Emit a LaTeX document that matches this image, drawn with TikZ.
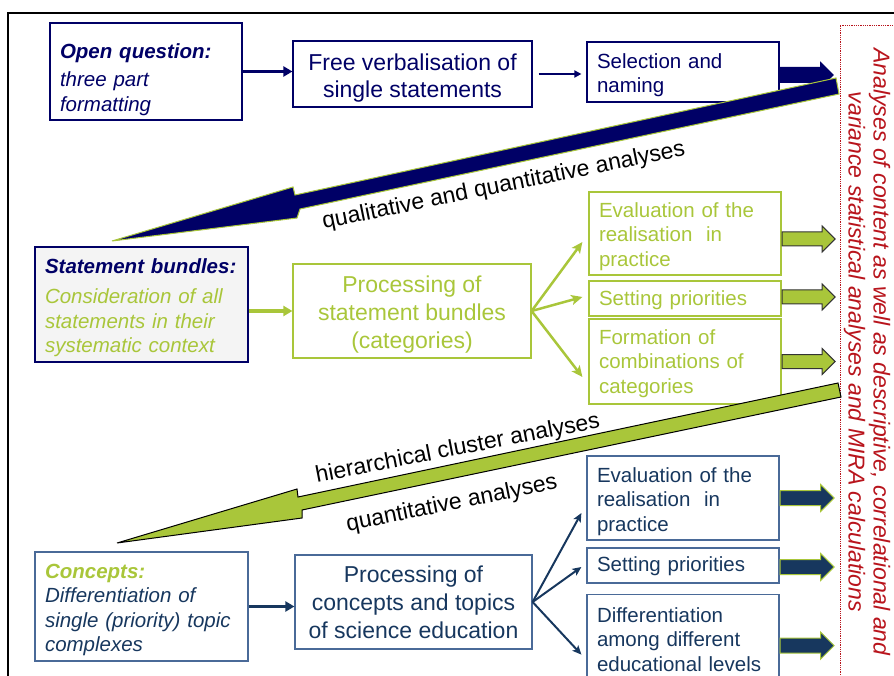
\documentclass[tikz,border=0pt]{standalone}
\usepackage{fontspec}
\setmainfont{Liberation Sans}
\usetikzlibrary{arrows.meta,shapes.arrows}

\definecolor{navy}{HTML}{000066}
\definecolor{deepblue}{HTML}{17375E}
\definecolor{slateline}{HTML}{4A6A98}
\definecolor{lime}{HTML}{A9C63A}
\definecolor{darkred}{HTML}{B8141C}
\definecolor{paper}{HTML}{F4F4F4}
\newcommand{\liftline}[1]{\rule{0pt}{#1}}

\begin{document}
\begin{tikzpicture}[x=1pt, y=-1pt,
	every node/.style={inner xsep=10pt, inner ysep=0pt},
	navybox/.style={draw=navy, line width=1.2pt, text=navy},
	limebox/.style={draw=lime, line width=1.2pt, text=lime},
	bluebox/.style={draw=slateline, line width=1.2pt, text=deepblue},
	small/.style={font=\fontsize{20.5}{24.5}\selectfont},
	big/.style={font=\fontsize{23}{28}\selectfont},
	flow/.style={line width=3pt, -{Triangle[length=9pt,width=10pt]}},
	fan/.style={line width=2.5pt, -{Stealth[length=11pt,width=10pt,inset=2.5pt]}},
	block/.style={single arrow, single arrow head extend=6pt, single arrow head indent=0pt,
		inner xsep=0pt, inner ysep=6.5pt, minimum height=53pt, anchor=tail, line width=1pt},
	diag/.style={font=\fontsize{23}{26}\selectfont, anchor=base, rotate=11.5, inner sep=0pt}
]
\useasboundingbox (0,0) rectangle (894,676);
\clip (0,0) rectangle (894,676);

\draw[line width=2pt] (8,690) -- (8,13) -- (900,13);
\draw[darkred, densely dotted, line width=0.8pt] (900,25) -- (840,25) -- (840,690);
\node[text=darkred, rotate=-90, align=center, inner sep=0pt,
	font=\fontsize{23}{25}\selectfont\itshape] (note) at (867,352)
	{Analyses of content as well as descriptive, correlational and\\
	 variance statistical analyses and MIRA calculations};

% top row
\node[navybox, small, align=left, text width=172pt, minimum height=97pt] (oq) at (146,71.5)
	{\liftline{31pt}\textbf{\textit{Open question:}}\\[3.5pt]\textit{three part}\\\textit{formatting}};
\node[navybox, align=center, minimum width=239pt, minimum height=66pt,
	font=\fontsize{23}{27}\selectfont] (fv) at (412.5,74)
	{\liftline{24.5pt}Free verbalisation of\\single statements};
\node[navybox, small, align=left, text width=172pt, minimum height=60pt] (sn) at (683,72)
	{\liftline{21pt}Selection and\\naming};

\draw[navy, flow] (oq.east) -- (oq.east -| fv.west);
\draw[navy, line width=2pt, -{Triangle[length=7pt,width=7pt]}, shorten <=6pt, shorten >=5pt]
	(fv.east) -- (fv.east -| sn.west);
\node[block, fill=navy, draw=navy, single arrow head extend=5pt, inner ysep=7pt, yshift=-3pt]
	(sn-arr) at (sn.east) {};

% middle row
\node[navybox, fill=paper, small, align=left, text width=193pt, minimum height=115pt] (sb) at (141.5,304.5)
	{\liftline{21pt}\textbf{\textit{Statement bundles:}}\\[6pt]
	 \color{lime}\textit{Consideration of all}\\\textit{statements in their}\\\textit{systematic context}};
\node[limebox, big, align=center, minimum width=238pt, minimum height=94pt] (ps) at (412,311)
	{\liftline{24.5pt}Processing of\\statement bundles\\(categories)};
\node[limebox, small, align=left, text width=172pt, minimum height=83pt] (ge1) at (685,233.5)
	{\liftline{21pt}Evaluation of the\\realisation~ in\\practice};
\node[limebox, small, align=left, text width=172pt, minimum height=35pt] (ge2) at (685,298.5)
	{\liftline{19pt}Setting priorities};
\node[limebox, small, align=left, text width=172pt, minimum height=85pt] (ge3) at (685,361.5)
	{\liftline{19pt}Formation of\\combinations of\\categories};

\draw[lime, flow] (ps.west -| sb.east) -- (ps.west);
\foreach \t/\dy in {ge1/-8.5, ge2/1.5, ge3/-15.5}
	\draw[lime, fan] (ps.east) -- ([xshift=-6pt, yshift=\dy pt]\t.west);
\foreach \t/\dy in {ge1/-5.5, ge2/1.5, ge3/0}
	\node[block, fill=lime, draw=black!80, yshift=\dy pt] (\t-arr) at (\t.east) {};

% bottom row
\node[bluebox, small, align=left, text width=193pt, minimum height=109pt] (cc) at (141.5,606.5)
	{\liftline{21pt}\textcolor{lime}{\textbf{\textit{Concepts:}}}\\\textit{Differentiation of}\\
	 \textit{single (priority) topic}\\\textit{complexes}};
\node[bluebox, big, align=center, minimum width=237pt, minimum height=94pt] (pc) at (413.5,602)
	{\liftline{18pt}Processing of\\concepts and topics\\of science education};
\node[bluebox, small, align=left, text width=172pt, minimum height=84pt] (be1) at (683,498)
	{\liftline{22pt}Evaluation of the\\realisation~ in\\practice};
\node[bluebox, small, align=left, text width=172pt, minimum height=35pt] (be2) at (683,565.5)
	{\liftline{16pt}Setting priorities};
\node[bluebox, small, align=left, text width=172pt, minimum height=88pt, anchor=north] (be3) at (683,594)
	{\liftline{16pt}Differentiation\\among different\\educational levels};

\draw[deepblue, flow] (cc.east) -- (cc.east -| pc.west);
\foreach \t/\dy in {be1/-15, be2/-1.5, be3/-16}
	\draw[deepblue, line width=2pt, -{Stealth[length=9pt,width=8pt,inset=2pt]}]
		(pc.east) -- ([xshift=-5pt, yshift=\dy pt]\t.west);
\foreach \t/\dy in {be1/0, be2/-1.5, be3/-7}
	\node[block, minimum height=54pt, inner ysep=7pt, fill=deepblue, draw=lime, yshift=\dy pt] (\t-arr) at (\t.east) {};

% the two long arrows back to the left
\filldraw[fill=navy, draw=lime, line width=1pt]
	(836,78) -- (295,195) -- (293,187) -- (112,241) -- (297,218) -- (300,209) -- (839,94) -- cycle;
\filldraw[fill=lime, draw=black, line width=1pt]
	(838,383) -- (298,497) -- (297,489) -- (117,543) -- (302,518) -- (302,510) -- (841,397) -- cycle;

\node[diag] (qq) at (505,192) {qualitative and quantitative analyses};
\node[diag, rotate=-0.5] (hc) at (459,455) {hierarchical cluster analyses};
\node[diag] (qa) at (453,510) {quantitative analyses};

\end{tikzpicture}
\end{document}
